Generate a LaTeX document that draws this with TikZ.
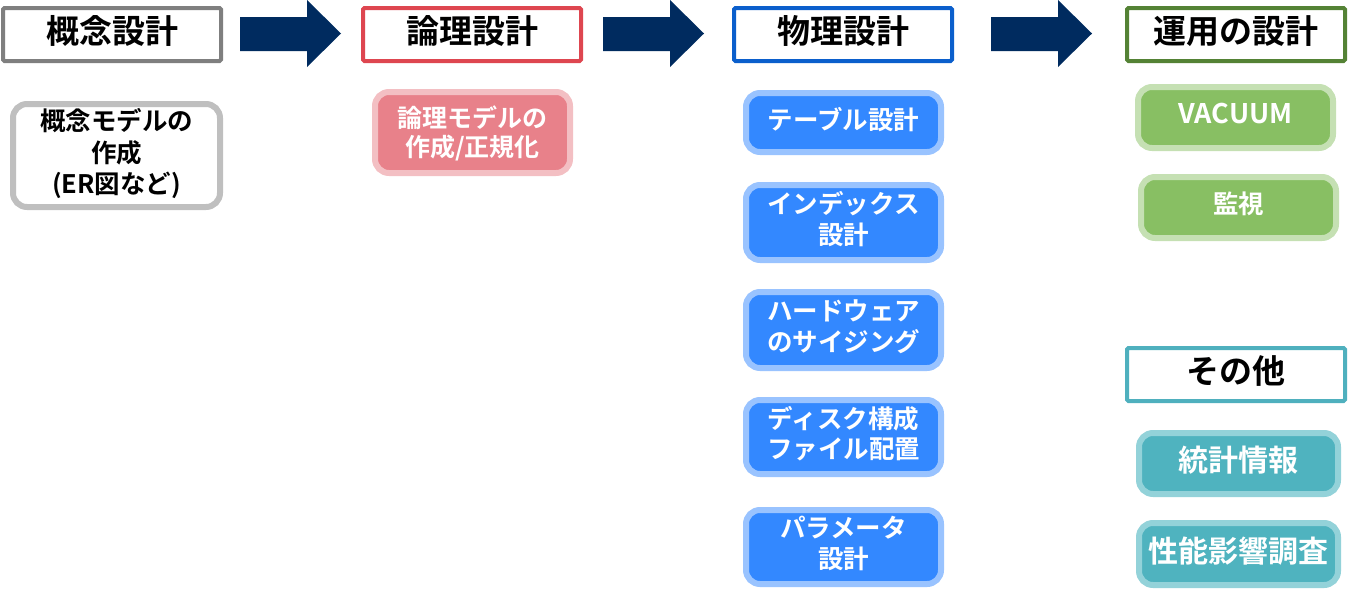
\documentclass[tikz,border=0pt]{standalone}
\usepackage{fontspec}
\setmainfont{Noto Sans CJK JP}[BoldFont={Noto Sans CJK JP Bold}]
\usetikzlibrary{positioning}
\definecolor{flownavy}{HTML}{002B5F}
\definecolor{grayline}{HTML}{7F7F7F}
\definecolor{redline}{HTML}{DE4650}
\definecolor{blueline}{HTML}{0B5FCC}
\definecolor{greenline}{HTML}{548235}
\definecolor{tealline}{HTML}{4FB0BE}
\definecolor{conceptedge}{HTML}{BFBFBF}
\definecolor{logicfill}{HTML}{E8818A}
\definecolor{logicedge}{HTML}{F3BFC3}
\definecolor{physfill}{HTML}{3388FF}
\definecolor{physedge}{HTML}{99C3FF}
\definecolor{opfill}{HTML}{88BF63}
\definecolor{opedge}{HTML}{C5E0B3}
\definecolor{otherfill}{HTML}{4FB3BF}
\definecolor{otheredge}{HTML}{93D2D9}
\newcommand\boxtext[1]{\begin{tabular}{@{}c@{}}#1\end{tabular}}

\begin{document}
\begin{tikzpicture}[
  x=1pt, y=-1pt,
  phase/.style={draw=#1, line width=4pt, fill=white, rounded corners=1.5pt,
    minimum width=218pt, minimum height=53pt, inner sep=0pt,
    font=\fontsize{33}{44}\selectfont\bfseries},
  task/.style={line width=6pt, rounded corners=14pt, minimum width=195pt,
    inner sep=0pt, text=white,
    font=\fontsize{25.5}{30}\selectfont\bfseries},
  flow/.style={fill=flownavy}
]
\useasboundingbox (0,0) rectangle (1348,592);
% phase headers
\node[phase=grayline] (concept) at (112,34.5) {\boxtext{概念設計}};
\node[phase=redline] (logic) at (472,34.5) {\boxtext{論理設計}};
\node[phase=blueline] (phys) at (843,34.5) {\boxtext{物理設計}};
\node[phase=greenline] (oper) at (1236,34.5) {\boxtext{運用の設計}};
\node[phase=tealline] (other) at (1236,374.5) {\boxtext{その他}};
% block arrows
\foreach \x in {240,603,991}
  \fill[flow] (\x,17) -- (\x+67,17) -- (\x+67,0) -- (\x+101,33.5)
    -- (\x+67,67) -- (\x+67,51) -- (\x,51) -- cycle;
% tasks
\node[task, draw=conceptedge, fill=white, text=black, minimum width=207pt,
  minimum height=103pt, font=\fontsize{25.5}{31}\selectfont\bfseries]
  (er) at (116.5,155.5) {\boxtext{概念モデルの\\作成\\(ER図など)}};
\node[task, draw=logicedge, fill=logicfill, minimum height=81pt,
  font=\fontsize{25}{27}\selectfont\bfseries] (norm) at (472.5,132.5)
  {\raisebox{-2.5pt}[\height][\depth]{\boxtext{論理モデルの\\作成/正規化}}};
\node[task, draw=physedge, fill=physfill, minimum height=59pt] (table) at (843.5,122.5) {\boxtext{テーブル設計}};
\node[task, draw=physedge, fill=physfill, minimum height=75pt, below=27pt of table] (index) {\boxtext{インデックス\\設計}};
\node[task, draw=physedge, fill=physfill, minimum height=76pt, below=26pt of index] (hw) {\boxtext{ハードウェア\\のサイジング}};
\node[task, draw=physedge, fill=physfill, minimum height=74pt, below=26pt of hw] (disk) {\boxtext{ディスク構成\\ファイル配置}};
\node[task, draw=physedge, fill=physfill, minimum height=74pt, below=30pt of disk] (param) {\boxtext{パラメータ\\設計}};
\node[task, draw=opedge, fill=opfill, minimum height=61pt,
  font=\fontsize{27}{32}\selectfont\bfseries] (vacuum) at (1235.5,117.5) {\boxtext{VACUUM}};
\node[task, draw=opedge, fill=opfill, minimum height=61pt,
  font=\fontsize{25.5}{31}\selectfont\bfseries] (watch) at (1238.5,207.5) {\boxtext{監視}};
\node[task, draw=otheredge, fill=otherfill, minimum width=199pt, minimum height=61pt,
  font=\fontsize{30}{40}\selectfont\bfseries] (stats) at (1238.5,463.5) {\boxtext{統計情報}};
\node[task, draw=otheredge, fill=otherfill, minimum width=199pt, minimum height=62pt,
  font=\fontsize{30}{40}\selectfont\bfseries] (perf) at (1238.5,554) {\boxtext{性能影響調査}};
\end{tikzpicture}
\end{document}
